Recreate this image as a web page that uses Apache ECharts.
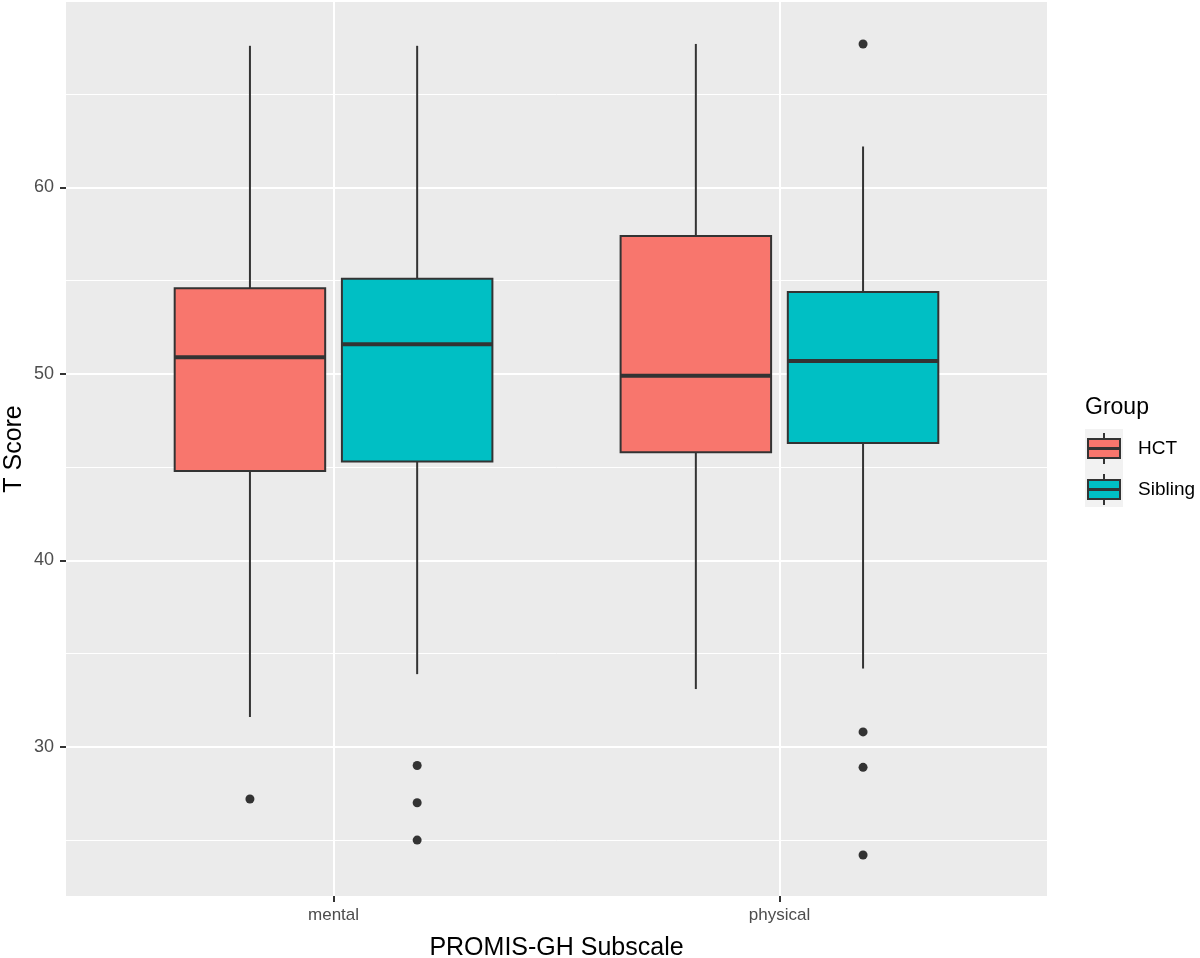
<!DOCTYPE html>
<html>
<head>
<meta charset="utf-8">
<script src="https://cdn.jsdelivr.net/npm/echarts@6/dist/echarts.min.js"></script>
<style>
  html, body { margin: 0; padding: 0; background: #fff; }
  #chart { width: 1200px; height: 958px; }
</style>
</head>
<body>
<div id="chart"></div>
<script>
// categories on the x axis
var categories = ['mental', 'physical'];
var groups = ['HCT', 'Sibling'];

// box stats per category: [low whisker, Q1, median, Q3, high whisker]
var hctBox = [
    [31.6, 44.8, 50.9, 54.6, 67.6],
    [33.1, 45.8, 49.9, 57.4, 67.7]
];
var siblingBox = [
    [33.9, 45.3, 51.6, 55.1, 67.6],
    [34.2, 46.3, 50.7, 54.4, 62.2]
];

// outliers per category
var hctOutliers = [
    [27.2],
    []
];
var siblingOutliers = [
    [29.0, 27.0, 25.0],
    [67.7, 30.8, 28.9, 24.2]
];

var yMajor = [30, 40, 50, 60];
var yMinor = [25, 35, 45, 55, 65];

var groupColors = ['#F8766D', '#00BFC4'];
var dodge = [-0.1875, 0.1875];   // position_dodge2 offsets
var boxW = 0.3375;               // box width in x units
var ink = '#333333';
var font = '"Liberation Sans", Arial, sans-serif';

function boxData(stats, g) {
    return stats.map(function (b, i) {
        return [i + 1 + dodge[g]].concat(b);
    });
}

function outlierData(list, g) {
    var out = [];
    list.forEach(function (vals, i) {
        vals.forEach(function (v) {
            out.push([i + 1 + dodge[g], v]);
        });
    });
    return out;
}

function renderBox(params, api) {
    var x = api.value(0);
    var low = api.coord([x, api.value(1)]);
    var q1 = api.coord([x, api.value(2)]);
    var med = api.coord([x, api.value(3)]);
    var q3 = api.coord([x, api.value(4)]);
    var high = api.coord([x, api.value(5)]);
    var half = api.size([boxW, 0])[0] / 2;
    var cx = med[0];
    var fill = groupColors[params.seriesIndex];
    return {
        type: 'group',
        children: [
            { type: 'line', shape: { x1: cx, y1: high[1], x2: cx, y2: q3[1] }, style: { stroke: ink, lineWidth: 2 } },
            { type: 'line', shape: { x1: cx, y1: q1[1], x2: cx, y2: low[1] }, style: { stroke: ink, lineWidth: 2 } },
            { type: 'rect', shape: { x: cx - half, y: q3[1], width: half * 2, height: q1[1] - q3[1] }, style: { fill: fill, stroke: ink, lineWidth: 2 } },
            { type: 'line', shape: { x1: cx - half, y1: med[1], x2: cx + half, y2: med[1] }, style: { stroke: ink, lineWidth: 4 } }
        ]
    };
}

var chart = echarts.init(document.getElementById('chart'));

var option = {
    animation: false,
    textStyle: { fontFamily: font },
    grid: {
        left: 66,
        right: 153,
        top: 2,
        bottom: 62,
        containLabel: false,
        outerBoundsMode: 'none',
        show: true,
        backgroundColor: '#EBEBEB',
        borderWidth: 0
    },
    title: {
        text: 'Group',
        left: 1085,
        top: 396,
        padding: 0,
        textStyle: { fontSize: 23, fontWeight: 'normal', color: '#000', fontFamily: font }
    },
    graphic: [
        { type: 'rect', left: 1085, top: 429, shape: { width: 38, height: 78 }, style: { fill: '#F2F2F2' }, z: -1 }
    ],
    legend: {
        data: groups,
        orient: 'vertical',
        left: 1087,
        top: 432,
        padding: 0,
        itemWidth: 32,
        itemHeight: 31,
        itemGap: 8,
        icon: 'path://M16,0V6M0,6H32V25H0ZM0,15H32V16H0ZM16,25V31',
        itemStyle: { borderColor: ink, borderWidth: 2 },
        textStyle: { fontSize: 19, color: '#000', fontFamily: font, padding: [0, 0, 0, 13] }
    },
    xAxis: {
        type: 'value',
        min: 0.4,
        max: 2.6,
        name: 'PROMIS-GH Subscale',
        nameLocation: 'middle',
        nameGap: 40,
        nameMoveOverlap: false,
        nameTextStyle: { fontSize: 25, color: '#000', fontFamily: font },
        axisLine: { show: false },
        axisTick: { show: true, customValues: [1, 2], length: 6, lineStyle: { color: ink, width: 2 } },
        axisLabel: {
            customValues: [1, 2],
            margin: 11,
            fontSize: 17,
            color: '#4D4D4D',
            formatter: function (v) { return categories[Math.round(v) - 1] || ''; }
        },
        splitLine: { show: true, lineStyle: { color: '#FFFFFF', width: 2 } }
    },
    yAxis: [
        {
            type: 'value',
            min: 22,
            max: 69.95,
            name: 'T Score',
            nameLocation: 'middle',
            nameGap: 39,
            nameMoveOverlap: false,
            nameTextStyle: { fontSize: 25, color: '#000', fontFamily: font },
            axisLine: { show: false },
            axisTick: { show: true, customValues: yMajor, length: 6, lineStyle: { color: ink, width: 2 } },
            axisLabel: { customValues: yMajor, margin: 12, fontSize: 18, color: '#4D4D4D' },
            splitLine: { show: true, lineStyle: { color: '#FFFFFF', width: 2 } }
        },
        {
            type: 'value',
            min: 22,
            max: 69.95,
            position: 'left',
            axisLine: { show: false },
            axisTick: { show: false, customValues: yMinor },
            axisLabel: { show: false, customValues: yMinor },
            splitLine: { show: true, lineStyle: { color: '#FFFFFF', width: 1 } }
        }
    ],
    series: [
        {
            name: 'HCT',
            type: 'custom',
            renderItem: renderBox,
            itemStyle: { color: groupColors[0], borderColor: ink, borderWidth: 2 },
            encode: { x: 0, y: [1, 2, 3, 4, 5] },
            data: boxData(hctBox, 0),
            z: 3
        },
        {
            name: 'Sibling',
            type: 'custom',
            renderItem: renderBox,
            itemStyle: { color: groupColors[1], borderColor: ink, borderWidth: 2 },
            encode: { x: 0, y: [1, 2, 3, 4, 5] },
            data: boxData(siblingBox, 1),
            z: 3
        },
        {
            name: 'HCT outliers',
            type: 'scatter',
            symbolSize: 9,
            itemStyle: { color: ink, opacity: 1 },
            data: outlierData(hctOutliers, 0),
            z: 4
        },
        {
            name: 'Sibling outliers',
            type: 'scatter',
            symbolSize: 9,
            itemStyle: { color: ink, opacity: 1 },
            data: outlierData(siblingOutliers, 1),
            z: 4
        }
    ]
};

chart.setOption(option);
</script>
</body>
</html>
